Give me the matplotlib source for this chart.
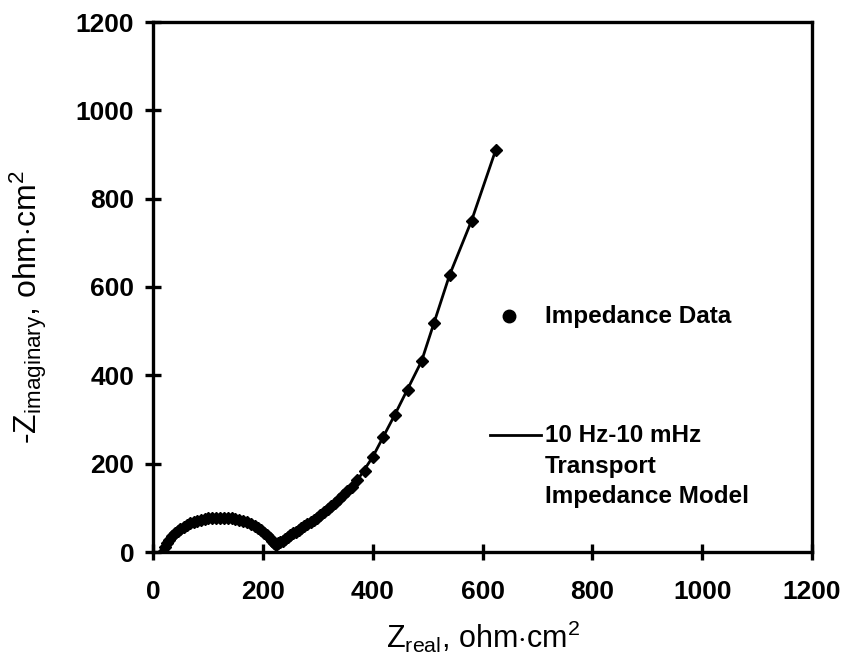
import matplotlib
matplotlib.use("Agg")
import matplotlib.pyplot as plt

plt.rcParams['font.family'] = ['Liberation Sans', 'DejaVu Sans']
plt.rcParams['mathtext.fontset'] = 'custom'
plt.rcParams['mathtext.rm'] = 'Liberation Sans'
plt.rcParams['mathtext.it'] = 'Liberation Sans'

# High-frequency arc + low-frequency branch (impedance data)
z_real = [18, 22, 26, 30, 35, 40, 45, 50, 56, 62, 68, 74, 80, 87, 94, 101,
          108, 115, 122, 129, 136, 143, 150, 157, 164, 171, 178, 185, 191,
          197, 203, 208, 213, 217, 221, 224,
          228, 232, 236, 240, 245, 250, 255, 260, 265, 270, 275, 281, 287,
          293, 299, 305, 311, 318, 325, 332, 339, 346, 354, 362, 372, 386,
          400, 418, 440, 464, 489, 512, 540, 580, 624]
z_imag = [0, 12, 21, 28, 36, 42, 48, 52, 57, 61, 65, 68, 71, 73, 75, 77,
          77, 78, 78, 78, 77, 76, 74, 72, 70, 67, 63, 59, 55,
          50, 44, 38, 32, 26, 20, 15,
          20, 23, 26, 30, 34, 38, 42, 46, 50, 54, 58, 63, 68,
          73, 78, 84, 90, 97, 104, 112, 120, 128, 138, 148, 162, 184,
          215, 260, 310, 367, 432, 518, 627, 750, 910]

# Transport impedance model, 10 Hz - 10 mHz
model_real = [224, 228, 240, 255, 270, 287, 305, 325, 346, 372, 400,
              440, 489, 540, 580, 624]
model_imag = [15, 20, 30, 42, 54, 68, 84, 104, 128, 162, 215,
              310, 432, 627, 750, 910]

x_ticks = [0, 200, 400, 600, 800, 1000, 1200]
y_ticks = [0, 200, 400, 600, 800, 1000, 1200]

fig = plt.figure(figsize=(8.46, 6.62), dpi=100)
ax = fig.add_axes([153/846, 1 - 552/662, (812-153)/846, (552-22)/662])

ax.plot(model_real, model_imag, color='black', lw=2.0, zorder=2)
ax.plot(z_real, z_imag, ls='none', marker='D', ms=6.5, color='black', zorder=3)

ax.set_xlim(0, 1200)
ax.set_ylim(0, 1200)
ax.set_xticks(x_ticks)
ax.set_yticks(y_ticks)
for s in ax.spines.values():
    s.set_linewidth(2.4)
ax.tick_params(direction='inout', length=11, width=2.4, labelsize=19)
ax.tick_params(axis='x', pad=15)
ax.tick_params(axis='y', pad=8)
for lab in ax.get_xticklabels() + ax.get_yticklabels():
    lab.set_fontweight('bold')

ax.set_xlabel(r'$\mathrm{Z_{real}}$, ohm$\cdot$cm$^\mathrm{2}$', fontsize=22)
ax.set_ylabel(r'-$\mathrm{Z_{imaginary}}$, ohm$\cdot$cm$^\mathrm{2}$', fontsize=23)
ax.xaxis.set_label_coords(0.5, -0.125)
ax.yaxis.set_label_coords(-0.158, 0.462)

# Legend drawn manually
tr = ax.transAxes
def axx(px):
    return (px - 153) / (812 - 153)
def axy(py):
    return (552 - py) / (552 - 22)

ax.plot([axx(509)], [axy(316)], marker='o', ms=9, color='black', transform=tr, clip_on=False)
ax.text(axx(545), axy(316), 'Impedance Data', transform=tr, fontsize=17.5,
        fontweight='bold', va='center', ha='left')
ax.plot([axx(490), axx(541)], [axy(435), axy(435)], color='black', lw=2.0,
        transform=tr, clip_on=False)
ax.text(axx(545), axy(435), '10 Hz-10 mHz', transform=tr, fontsize=17.5,
        fontweight='bold', va='center', ha='left')
ax.text(axx(545), axy(466), 'Transport', transform=tr, fontsize=17.5,
        fontweight='bold', va='center', ha='left')
ax.text(axx(545), axy(497), 'Impedance Model', transform=tr, fontsize=17.5,
        fontweight='bold', va='center', ha='left')

fig.savefig('out.png', dpi=100)
